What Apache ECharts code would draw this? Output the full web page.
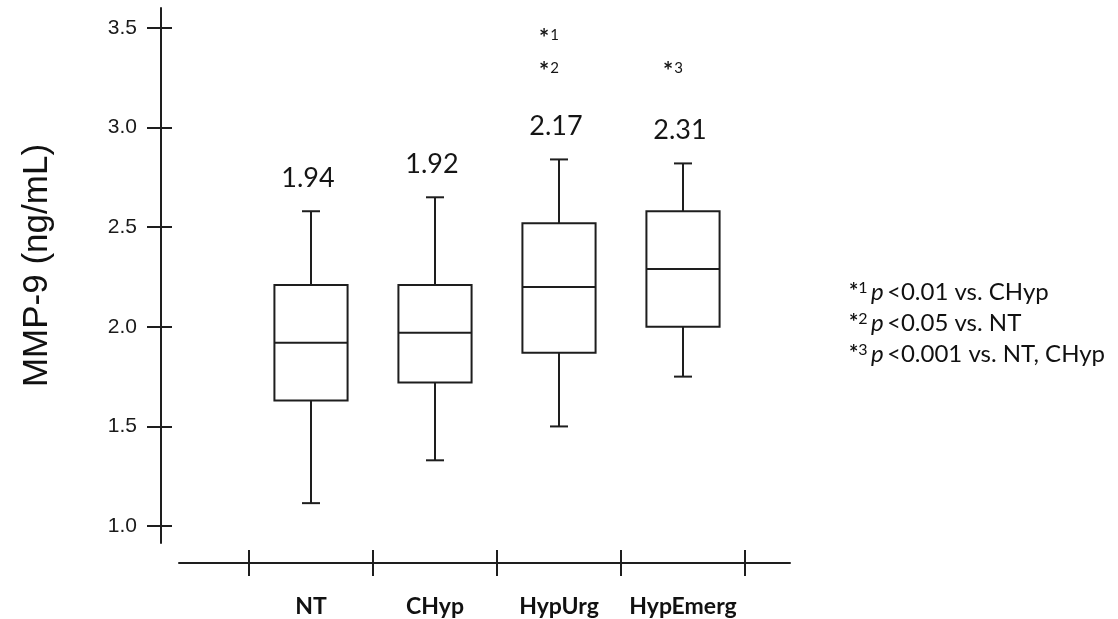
<!DOCTYPE html>
<html><head><meta charset="utf-8">
<script src="https://cdn.jsdelivr.net/npm/echarts@6/dist/echarts.min.js"></script>
<style>html,body{margin:0;padding:0;background:#fff}#c{width:1118px;height:619px}</style>
</head><body><div id="c"></div>
<script>
// ---- data ----
const categories = ['NT', 'CHyp', 'HypUrg', 'HypEmerg'];
const whiskerLow  = [1.115, 1.33, 1.50, 1.75];
const quartile1   = [1.63, 1.72, 1.87, 2.00];
const medians     = [1.92, 1.97, 2.20, 2.29];
const quartile3   = [2.21, 2.21, 2.52, 2.58];
const whiskerHigh = [2.58, 2.65, 2.84, 2.82];
const means       = [1.94, 1.92, 2.17, 2.31];
const significance = [[], [], ['1', '2'], ['3']];
const yTicks = [1.0, 1.5, 2.0, 2.5, 3.0, 3.5];
const noteMarks = ['1', '2', '3'];
const noteTexts = ['<0.01 vs. CHyp', '<0.05 vs. NT', '<0.001 vs. NT, CHyp'];

const INK = '#1e1e1e';
const boxData = categories.map((c, i) => [i, whiskerLow[i], quartile1[i], medians[i], quartile3[i], whiskerHigh[i]]);

function renderBox(params, api) {
  const i = api.value(0);
  const pLo = api.coord([i, api.value(1)]);
  const pQ1 = api.coord([i, api.value(2)]);
  const pMed = api.coord([i, api.value(3)]);
  const pQ3 = api.coord([i, api.value(4)]);
  const pHi = api.coord([i, api.value(5)]);
  const band = api.size([1, 0])[0];
  const bw = band * 0.59, cap = 18;
  const cx = pMed[0];
  const ls = { stroke: INK, lineWidth: 2 };
  const children = [
    { type: 'line', shape: { x1: cx, y1: pQ3[1], x2: cx, y2: pHi[1] }, style: ls },
    { type: 'line', shape: { x1: cx, y1: pQ1[1], x2: cx, y2: pLo[1] }, style: ls },
    { type: 'line', shape: { x1: cx - cap / 2, y1: pHi[1], x2: cx + cap / 2, y2: pHi[1] }, style: ls },
    { type: 'line', shape: { x1: cx - cap / 2, y1: pLo[1], x2: cx + cap / 2, y2: pLo[1] }, style: ls },
    { type: 'rect', shape: { x: cx - bw / 2, y: pQ3[1], width: bw, height: pQ1[1] - pQ3[1] },
      style: { fill: '#fff', stroke: INK, lineWidth: 2 } },
    { type: 'line', shape: { x1: cx - bw / 2, y1: pMed[1], x2: cx + bw / 2, y2: pMed[1] }, style: ls },
    { type: 'text', style: { text: means[params.dataIndex].toFixed(2), x: cx - 3, y: pHi[1] - 33,
      align: 'center', verticalAlign: 'middle', font: '27px Lato', fill: '#151515' } }
  ];
  const sig = significance[params.dataIndex];
  const base = api.coord([i, 3.3])[1];
  sig.forEach((d, k) => {
    const y = base - (sig.length - 1 - k) * 33;
    children.push({ type: 'text', style: {
      text: '{s|*}{d|' + d + '}', x: cx - 10, y: y, align: 'center', verticalAlign: 'middle',
      rich: {
        s: { font: 'bold 24px Lato', fill: '#151515', padding: [8, 1, 0, 0] },
        d: { font: '15px Lato', fill: '#151515' }
      }
    } });
  });
  return { type: 'group', children };
}

const chart = echarts.init(document.getElementById('c'));
chart.setOption({
  backgroundColor: '#fff',
  animation: false,
  grid: [
    { left: 249, width: 496, top: 8, height: 535 },
    { left: 179, width: 611, top: 8, height: 535 }
  ],
  xAxis: [
    { type: 'category', gridIndex: 0, data: categories, position: 'bottom', offset: 20,
      axisLine: { show: false },
      axisTick: { show: true, interval: 0, inside: false, length: 13, lineStyle: { color: INK, width: 2 } },
      axisLabel: { interval: 0, margin: 32, fontFamily: 'Lato', fontWeight: 'bold', fontSize: 23, color: '#111' },
      splitLine: { show: false } },
    { type: 'category', gridIndex: 0, data: categories, position: 'bottom', offset: 20,
      axisLine: { show: false },
      axisTick: { show: true, interval: 0, inside: true, length: 13, lineStyle: { color: INK, width: 2 } },
      axisLabel: { show: false }, splitLine: { show: false } },
    { type: 'value', gridIndex: 1, min: 0, max: 1, position: 'bottom', offset: 20,
      axisLine: { show: true, lineStyle: { color: INK, width: 2 } },
      axisTick: { show: false }, axisLabel: { show: false }, splitLine: { show: false } }
  ],
  yAxis: [
    { type: 'value', gridIndex: 0, min: 0.915, max: 3.6, position: 'left', offset: 88,
      name: 'MMP-9 (ng/mL)', nameLocation: 'middle', nameGap: 106, nameRotate: 90,
      nameTextStyle: { fontFamily: 'Liberation Sans', fontSize: 35, color: '#111', padding: [0, 0, 0, 20] },
      axisLine: { show: true, lineStyle: { color: INK, width: 2 } },
      axisTick: { show: true, inside: false, length: 14, customValues: yTicks, lineStyle: { color: INK, width: 2 } },
      axisLabel: { customValues: yTicks, margin: 24, formatter: v => Number(v).toFixed(1),
        fontFamily: 'Liberation Sans', fontSize: 21, color: '#1a1a1a' },
      splitLine: { show: false } },
    { type: 'value', gridIndex: 0, min: 0.915, max: 3.6, position: 'left', offset: 88,
      axisLine: { show: false },
      axisTick: { show: true, inside: true, length: 11, customValues: yTicks, lineStyle: { color: INK, width: 2 } },
      axisLabel: { show: false }, splitLine: { show: false } },
    { type: 'value', gridIndex: 1, show: false, min: 0.915, max: 3.6 }
  ],
  graphic: noteTexts.map((t, k) => ({
    type: 'text', x: 849, y: 292 + k * 31,
    style: {
      text: '{s|*}{d|' + noteMarks[k] + '} {p|p} {t|' + t + '}',
      verticalAlign: 'middle',
      rich: {
        s: { font: 'bold 22px Lato', fill: '#111' },
        d: { font: '16px Lato', fill: '#111', verticalAlign: 'top' },
        p: { font: 'italic 24px Lato', fill: '#111' },
        t: { font: '24px Lato', fill: '#111' }
      }
    }
  })),
  series: [{
    type: 'custom', xAxisIndex: 0, yAxisIndex: 0,
    renderItem: renderBox,
    encode: { x: 0, y: [1, 2, 3, 4, 5] },
    data: boxData
  }]
});
</script></body></html>
